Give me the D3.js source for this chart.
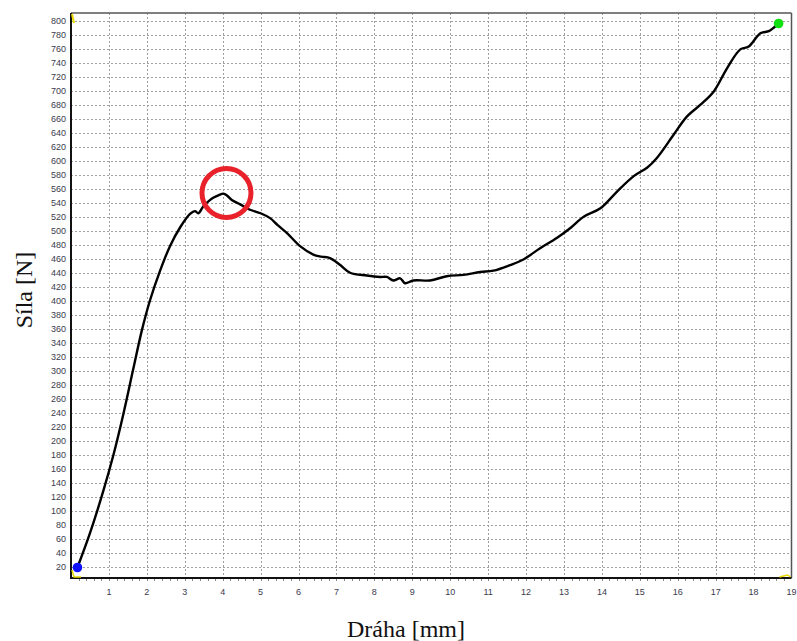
<!DOCTYPE html>
<html>
<head>
<meta charset="utf-8">
<script src="https://cdn.jsdelivr.net/npm/d3@7"></script>
<style>
  html, body { margin: 0; padding: 0; background: #ffffff; }
  svg { display: block; }
</style>
</head>
<body>
<svg id="chart" width="797" height="641"></svg>
<script>
// ---- data ----
const distance = [0.17, 0.50, 0.85, 1.12, 1.38, 1.64, 1.87, 2.08, 2.35, 2.61, 2.88, 3.14, 3.27, 3.36, 3.49, 3.67, 3.75, 3.90, 4.02, 4.12, 4.24, 4.45, 4.72, 5.00, 5.25, 5.45, 5.69, 6.04, 6.39, 6.60, 6.83, 7.10, 7.36, 7.80, 8.15, 8.33, 8.50, 8.68, 8.81, 9.03, 9.47, 9.91, 10.35, 10.79, 11.14, 11.58, 11.93, 12.37, 12.82, 13.17, 13.52, 13.96, 14.40, 14.84, 15.19, 15.45, 15.89, 16.24, 16.60, 16.95, 17.30, 17.65, 17.87, 18.18, 18.40, 18.53, 18.66];
const force    = [19, 68, 128, 180, 238, 302, 358, 400, 443, 478, 505, 524, 528, 525, 535, 544, 547, 551, 553, 550, 544, 538, 530, 525, 518, 508, 497, 478, 466, 463, 461, 451, 440, 436, 434, 434, 429, 432, 425, 429, 429, 435, 437, 441, 443, 451, 459, 475, 490, 504, 520, 532, 556, 578, 590, 604, 637, 663, 680, 699, 732, 759, 763, 782, 785, 790, 796];
const xTicks = [1, 2, 3, 4, 5, 6, 7, 8, 9, 10, 11, 12, 13, 14, 15, 16, 17, 18, 19];
const yTicks = d3.range(20, 801, 20);
const startPoint = {x: 0.17, y: 19};
const endPoint = {x: 18.66, y: 796};
const highlight = {x: 4.1, y: 554};
const xTitle = "Dráha [mm]";
const yTitle = "Síla [N]";

(function () {
// ---- layout ----
const L = 71, R = 791.5, T = 13, B = 578;
const svg = d3.select("#chart");
const x = d3.scaleLinear().domain([0, 19]).range([L, R]);
const y = d3.scaleLinear().domain([4, 811]).range([B, T]);

// grid
const grid = svg.append("g").attr("stroke", "#a0a0a0").attr("stroke-width", 1).attr("stroke-dasharray", "2,2");
grid.selectAll("line.h").data(yTicks).join("line").attr("class", "h")
  .attr("x1", L).attr("x2", R)
  .attr("y1", d => Math.round(y(d)) + 0.5).attr("y2", d => Math.round(y(d)) + 0.5);
grid.selectAll("line.v").data(xTicks.filter(d => d < 19)).join("line").attr("class", "v")
  .attr("y1", T).attr("y2", B)
  .attr("x1", d => Math.round(x(d)) + 0.5).attr("x2", d => Math.round(x(d)) + 0.5);

// minor ticks along bottom
const minor = d3.range(0.2, 19, 0.2);
svg.append("g").attr("stroke", "#888").attr("stroke-width", 1)
  .selectAll("line").data(minor).join("line")
  .attr("x1", d => Math.round(x(d)) + 0.5).attr("x2", d => Math.round(x(d)) + 0.5)
  .attr("y1", B + 1).attr("y2", B + 3);

// frame
svg.append("line").attr("x1", L).attr("x2", R).attr("y1", T).attr("y2", T).attr("stroke", "#555").attr("stroke-width", 1.5);
svg.append("line").attr("x1", R).attr("x2", R).attr("y1", T).attr("y2", B).attr("stroke", "#555").attr("stroke-width", 1.5);
svg.append("line").attr("x1", L).attr("x2", L).attr("y1", T).attr("y2", B + 1).attr("stroke", "#111").attr("stroke-width", 2);
svg.append("line").attr("x1", L - 1).attr("x2", R).attr("y1", B).attr("y2", B).attr("stroke", "#111").attr("stroke-width", 2);

// tick labels
svg.append("g").selectAll("text").data(yTicks).join("text")
  .attr("x", L - 5).attr("y", d => y(d)).attr("dy", "0.35em")
  .attr("text-anchor", "end").attr("font-family", "Liberation Sans, Arial, sans-serif")
  .attr("font-size", 9).attr("fill", "#3b3b4d").text(d => d);
svg.append("g").selectAll("text").data(xTicks).join("text")
  .attr("x", d => x(d)).attr("y", B + 17)
  .attr("text-anchor", "middle").attr("font-family", "Liberation Sans, Arial, sans-serif")
  .attr("font-size", 9).attr("fill", "#3b3b4d").text(d => d);

// yellow corner markers
svg.append("path").attr("d", `M${L+1},${B-8} L${L+3},${B-1} L${L+10},${B-1}`).attr("fill", "none").attr("stroke", "#e8d800").attr("stroke-width", 1.5);
svg.append("path").attr("d", `M${L+1},${T+1} L${L+3},${T+10}`).attr("fill", "none").attr("stroke", "#e8d800").attr("stroke-width", 2);
svg.append("path").attr("d", `M${R-12},${B-1} L${R-4},${B-3} L${R-1},${B-1}`).attr("fill", "none").attr("stroke", "#e8d800").attr("stroke-width", 1.5);

// curve
const line = d3.line().x((d, i) => x(distance[i])).y((d, i) => y(force[i])).curve(d3.curveCatmullRom.alpha(0.5));
svg.append("path").datum(force).attr("d", line)
  .attr("fill", "none").attr("stroke", "#000").attr("stroke-width", 2.4).attr("stroke-linejoin", "round");

// end markers
svg.append("circle").attr("cx", x(startPoint.x)).attr("cy", y(startPoint.y)).attr("r", 4.8).attr("fill", "#1010ff");
svg.append("circle").attr("cx", x(endPoint.x)).attr("cy", y(endPoint.y)).attr("r", 4.8).attr("fill", "#10e010");

// highlight circle
svg.append("circle").attr("cx", x(highlight.x)).attr("cy", y(highlight.y)).attr("r", 24.5)
  .attr("fill", "none").attr("stroke", "#e8212b").attr("stroke-width", 5);

// axis titles
svg.append("text").attr("x", 406).attr("y", 637).attr("text-anchor", "middle")
  .attr("font-family", "Liberation Serif, Times New Roman, serif").attr("font-size", 24)
  .attr("fill", "#111").text(xTitle);
svg.append("text").attr("transform", "translate(32,290) rotate(-90)").attr("text-anchor", "middle")
  .attr("font-family", "Liberation Serif, Times New Roman, serif").attr("font-size", 24)
  .attr("fill", "#111").text(yTitle);
})();
</script>
</body>
</html>
